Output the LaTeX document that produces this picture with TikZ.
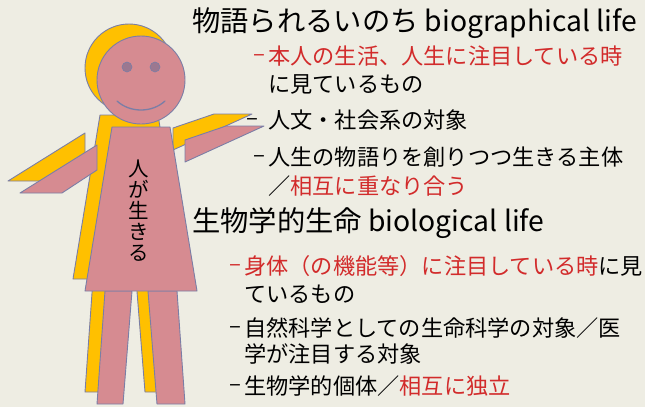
\documentclass[tikz,border=0pt]{standalone}
\usepackage{fontspec}
\setmainfont{Noto Sans CJK JP}
\newcommand{\gach}[1]{\llap{\raisebox{0.1em}{–}\hspace{#1}}} % gạch đầu dòng
\definecolor{nen}{HTML}{EEEDE3}
\definecolor{hong}{HTML}{D68B91}
\definecolor{vang}{HTML}{FFC000}
\definecolor{vien}{HTML}{7A7EA6}
\definecolor{mat}{HTML}{9C7890}
\definecolor{do}{HTML}{D22B2B}
\begin{document}
\begin{tikzpicture}[x=1pt, y=-1pt, line join=round, line cap=round,
	than/.style={draw=vien, line width=0.9pt},
	tde/.style={anchor=base west, inner sep=0pt, font=\fontsize{28.3}{32}\selectfont},
	dong/.style={anchor=base west, inner sep=0pt, font=\fontsize{22.2}{26}\selectfont}]
	\fill[nen] (0,0) rectangle (645,407);
	\useasboundingbox (0,0) rectangle (645,407);
	\def\lech{-12} % độ lệch của bóng vàng
	% bóng vàng trước, hình hồng sau
	\foreach \mau/\d in {vang/\lech, hong/0}{
		\begin{scope}[shift={(\d,\d)}, than, fill=\mau]
			\filldraw (20,193)--(62,193)--(97,170)--(97,145)--cycle; % tay trái
			\filldraw (185,162)--(185,140)--(226,126)--(264,126)--cycle; % tay phải
			\filldraw (105,291)--(132,291)--(123,404)--(97,404)--cycle; % chân trái
			\filldraw (148,291)--(177,291)--(185,404)--(157,404)--cycle; % chân phải
			\filldraw (112,127)--(170,127)--(197,291)--(85,291)--cycle; % thân
			\filldraw (141,80) circle (44); % đầu
		\end{scope}}
	\foreach \diem in {(127,67),(155,67)} \filldraw[fill=mat, draw=vien, line width=0.6pt] \diem circle (5);
	\draw[vien, line width=1.3pt] (117,101) .. controls (130,113) and (152,113) .. (165,101);
	\node[align=center, inner sep=0pt, font=\fontsize{20.5}{21}\selectfont] (nguoi) at (139,211) {人\\が\\生\\き\\る};
	% phần chữ bên phải
	\node[tde] (td1) at (192,31) {物語られるいのち biographical life};
	\node[dong] (d11) at (268,64) {\color{do}\gach{3pt}本人の生活、人生に注目している時};
	\node[dong] (d12) at (268,92) {に見ているもの};
	\node[dong] (d13) at (268,128) {\gach{10pt}人文・社会系の対象};
	\node[dong] (d14) at (268,165) {\gach{3pt}人生の物語りを創りつつ生きる主体};
	\node[dong] (d15) at (268,194) {／\textcolor{do}{相互に重なり合う}};
	\node[tde] (td2) at (192,231) {生物学的生命 biological life};
	\node[dong] (d21) at (244,274) {\textcolor{do}{\gach{3pt}身体（の機能等）に注目している時}に見};
	\node[dong] (d22) at (244,302) {ているもの};
	\node[dong] (d23) at (244,336) {\gach{3pt}自然科学としての生命科学の対象／医};
	\node[dong] (d24) at (244,362) {学が注目する対象};
	\node[dong] (d25) at (244,394) {\gach{3pt}生物学的個体／\textcolor{do}{相互に独立}};
\end{tikzpicture}
\end{document}
